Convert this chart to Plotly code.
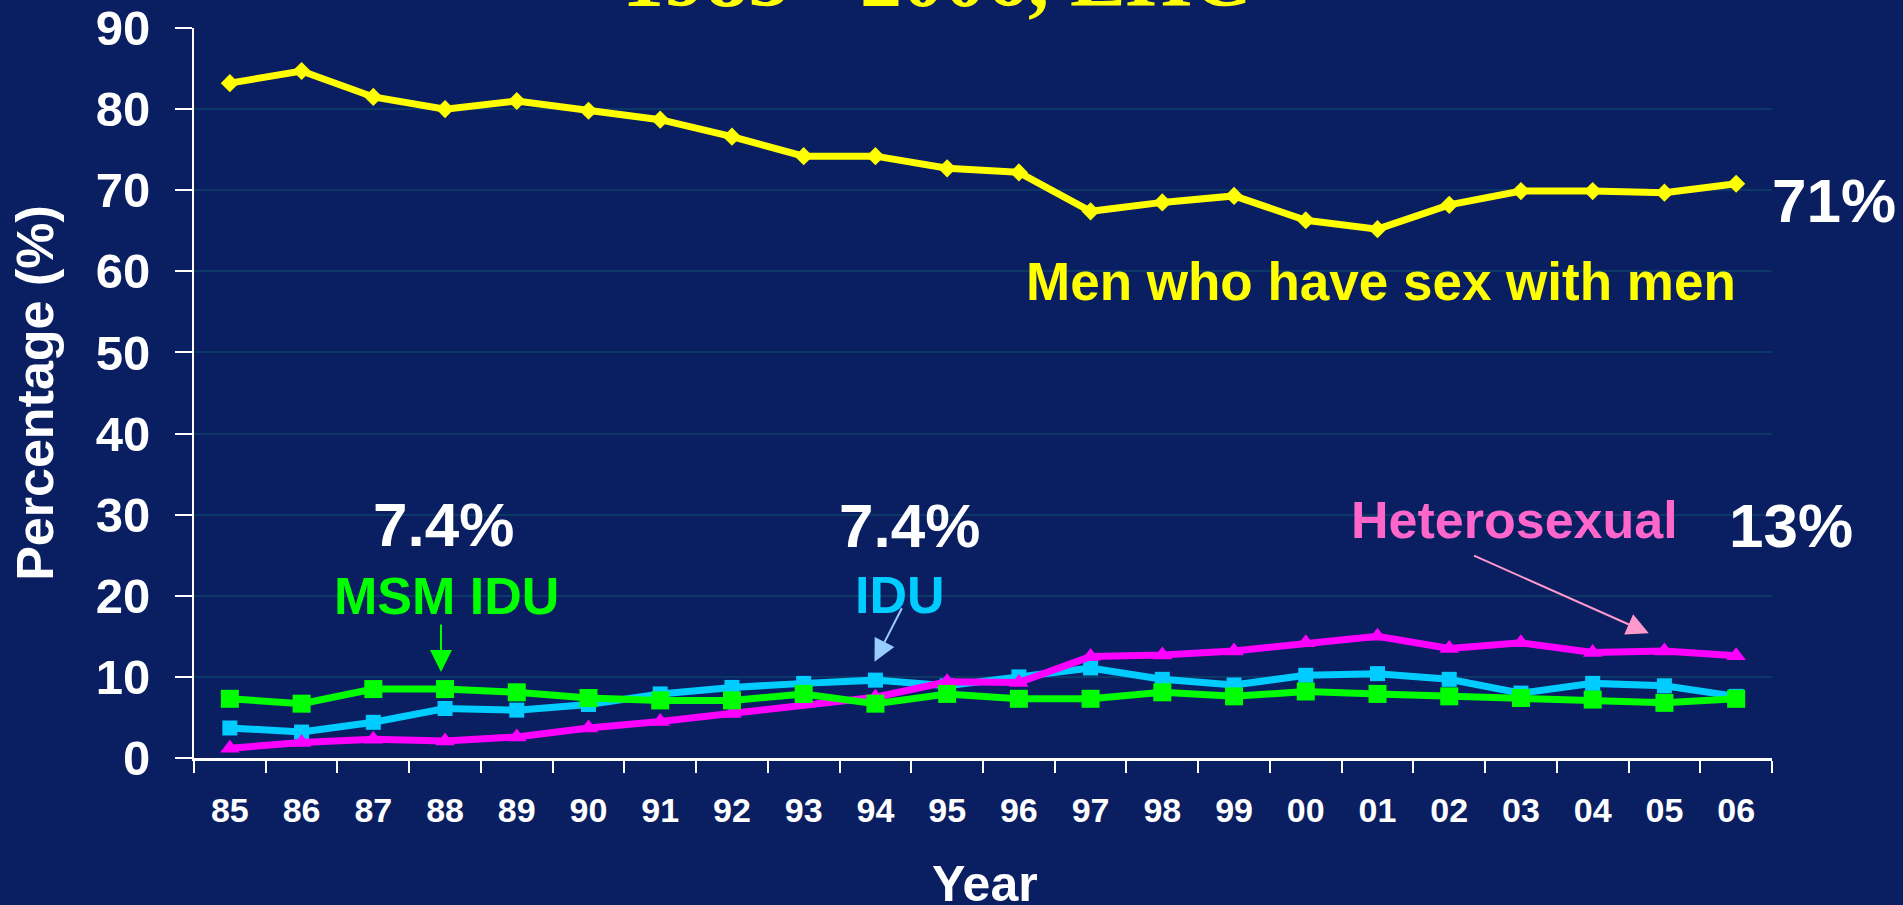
import plotly.graph_objects as go

years = ["85", "86", "87", "88", "89", "90", "91", "92", "93", "94", "95",
         "96", "97", "98", "99", "00", "01", "02", "03", "04", "05", "06"]
msm = [83.2, 84.7, 81.5, 80.0, 81.0, 79.8, 78.7, 76.6, 74.2, 74.2, 72.7,
       72.2, 67.4, 68.5, 69.3, 66.3, 65.2, 68.2, 69.9, 69.9, 69.7, 70.8]
idu = [3.7, 3.2, 4.4, 6.1, 5.9, 6.6, 7.9, 8.7, 9.2, 9.6, 8.9,
       10.0, 11.1, 9.7, 9.0, 10.2, 10.4, 9.7, 8.0, 9.2, 8.9, 7.6]
hetero = [1.2, 1.9, 2.3, 2.1, 2.6, 3.7, 4.5, 5.5, 6.7, 7.5, 9.4,
          9.3, 12.5, 12.7, 13.2, 14.2, 15.0, 13.5, 14.2, 13.0, 13.2, 12.6]
msm_idu = [7.3, 6.7, 8.5, 8.5, 8.1, 7.4, 7.1, 7.1, 7.9, 6.7, 7.9,
           7.3, 7.3, 8.1, 7.6, 8.2, 7.9, 7.6, 7.4, 7.2, 6.8, 7.3]

W, H = 1903, 905
L, R, T, B = 194, 1772, 28, 758
BG = "#0a1f61"
SANS = "Arial, Liberation Sans, sans-serif"
SERIF = "Times New Roman, Liberation Serif, serif"


def px(xp, yp):
    return (xp - L) / (R - L), (B - yp) / (B - T)


fig = go.Figure()
fig.add_trace(go.Scatter(x=years, y=msm, mode="lines+markers",
                         line=dict(color="#ffff00", width=7),
                         marker=dict(symbol="diamond", size=14, color="#ffff00")))
fig.add_trace(go.Scatter(x=years, y=idu, mode="lines+markers",
                         line=dict(color="#00ccff", width=7),
                         marker=dict(symbol="square", size=15, color="#00ccff")))
fig.add_trace(go.Scatter(x=years, y=hetero, mode="lines+markers",
                         line=dict(color="#ff00ff", width=7),
                         marker=dict(symbol="triangle-up", size=17, color="#ff00ff")))
fig.add_trace(go.Scatter(x=years, y=msm_idu, mode="lines+markers",
                         line=dict(color="#00ff00", width=7),
                         marker=dict(symbol="square", size=18, color="#00ff00")))

anns = []


def text(xp, yp, s, color, size, family=SANS, yanchor="middle"):
    x, y = px(xp, yp)
    anns.append(dict(x=x, y=y, xref="paper", yref="paper", text=s, showarrow=False,
                     xanchor="center", yanchor=yanchor,
                     font=dict(family=family, size=size, color=color)))


def arrow(tipx, tipy, tailx, taily, color, width=2):
    x, y = px(tipx, tipy)
    anns.append(dict(x=x, y=y, xref="paper", yref="paper", text="", showarrow=True,
                     ax=tailx - tipx, ay=taily - tipy, axref="pixel", ayref="pixel",
                     arrowhead=2, arrowsize=2.2, arrowwidth=width, arrowcolor=color,
                     standoff=0, startstandoff=0))


text(937, 26, "<b>1985 - 2006, EHC</b>", "#ffff00", 84, family=SERIF, yanchor="bottom")
text(985, 884, "<b>Year</b>", "white", 50)
text(1834, 200.5, "<b>71%</b>", "white", 62)
text(1381, 281, "<b>Men who have sex with men</b>", "#ffff00", 53)
text(443.4, 524.5, "<b>7.4%</b>", "white", 62)
text(446, 595.5, "<b>MSM IDU</b>", "#00ff00", 52)
text(909, 525, "<b>7.4%</b>", "white", 62)
text(900, 595, "<b>IDU</b>", "#00ccff", 52)
text(1514.5, 520, "<b>Heterosexual</b>", "#ff66cc", 52)
text(1791, 525, "<b>13%</b>", "white", 62)
arrow(441, 672, 441, 623, "#00ff00")
arrow(874.5, 661.7, 902.6, 606.7, "#99ccff")
arrow(1648.8, 633.3, 1472.5, 555, "#ff99cc")

fig.update_layout(
    width=W, height=H,
    margin=dict(l=L, r=W - R, t=T, b=H - B, pad=0, autoexpand=False),
    paper_bgcolor=BG, plot_bgcolor=BG,
    showlegend=False,
    annotations=anns,
    xaxis=dict(type="category", range=[-0.5, 21.5], showgrid=False, zeroline=False,
               automargin=True,
               showline=True, linecolor="white", linewidth=3,
               ticks="outside", tickson="boundaries", ticklen=12, tickwidth=2,
               tickcolor="white", ticklabelstandoff=20,
               tickfont=dict(family=SANS, size=34, color="white", weight="bold")),
    yaxis=dict(range=[0, 90], tick0=0, dtick=10, showgrid=True,
               gridcolor="#0c3868", gridwidth=2, zeroline=False,
               automargin=True,
               showline=True, linecolor="white", linewidth=2,
               ticks="outside", ticklen=17, tickwidth=2, tickcolor="white",
               ticklabelstandoff=15,
               tickfont=dict(family=SANS, size=49, color="white", weight="bold"),
               title=dict(text="<b>Percentage (%)</b>", standoff=25,
                          font=dict(family=SANS, size=52, color="white"))),
)

fig.write_html("out.html", config={"displayModeBar": False},
               post_script="document.body.style.margin='0';document.body.style.overflow='hidden';")
